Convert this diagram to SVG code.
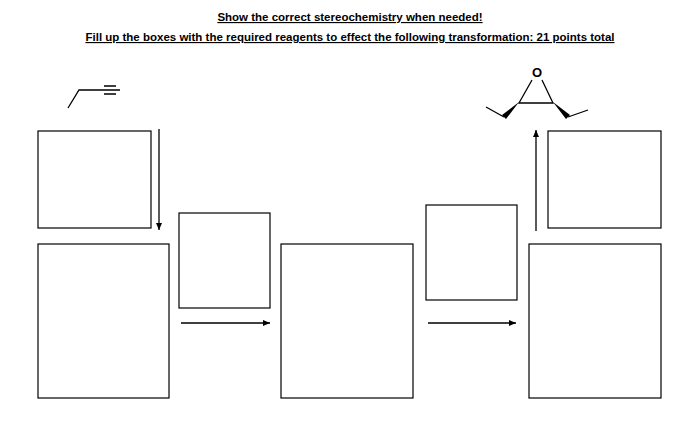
<svg xmlns="http://www.w3.org/2000/svg" width="700" height="444" viewBox="0 0 700 444">
<defs>
<style>
.t{font-family:"Liberation Sans",Arial,sans-serif;font-weight:bold;font-size:11.5px;text-decoration:underline;fill:#000}
.b{fill:#fff;stroke:#000;stroke-width:1.2}
.l{stroke:#000;stroke-width:1.3;fill:none}
</style>
<marker id="a" markerWidth="8" markerHeight="8" refX="7" refY="4" orient="auto" markerUnits="userSpaceOnUse"><path d="M0,1 L7,4 L0,7Z" fill="#000"/></marker>
</defs>
<rect width="700" height="444" fill="#fff"/>
<text class="t" x="350" y="21" text-anchor="middle">Show the correct stereochemistry when needed!</text>
<text class="t" x="350" y="41" text-anchor="middle">Fill up the boxes with the required reagents to effect the following transformation: 21 points total</text>
<g id="alkyne" class="l">
<path d="M68,108 L79,90 L120,90 M104,86 L116,86 M104,94 L116,94"/>
</g>
<g id="epoxide">
<text x="537" y="77" font-family="Liberation Sans,Arial,sans-serif" font-weight="bold" font-size="13" text-anchor="middle">O</text>
<path class="l" d="M532,80 L519,103 L553,103 L542,80 M504,117 L486,107 M568,117 L588,110"/>
<path d="M519,102 L502,115 L506,119Z M553,102 L570,115 L566,119Z" fill="#000"/>
</g>
<g id="box1"><rect class="b" x="38" y="131" width="113" height="97"/></g>
<g id="box2"><rect class="b" x="38" y="244" width="131" height="154"/></g>
<g id="box3"><rect class="b" x="179" y="213" width="91" height="95"/></g>
<g id="box4"><rect class="b" x="281" y="244" width="132" height="154"/></g>
<g id="box5"><rect class="b" x="426" y="205" width="91" height="95"/></g>
<g id="box6"><rect class="b" x="529" y="244" width="132" height="154"/></g>
<g id="box7"><rect class="b" x="548" y="131" width="113" height="97"/></g>
<g id="connectors" class="l">
<line x1="159" y1="129" x2="159" y2="230" marker-end="url(#a)"/>
<line x1="181" y1="323" x2="270" y2="323" marker-end="url(#a)"/>
<line x1="428" y1="323" x2="516" y2="323" marker-end="url(#a)"/>
<line x1="536" y1="231" x2="536" y2="130" marker-end="url(#a)"/>
</g>
</svg>
